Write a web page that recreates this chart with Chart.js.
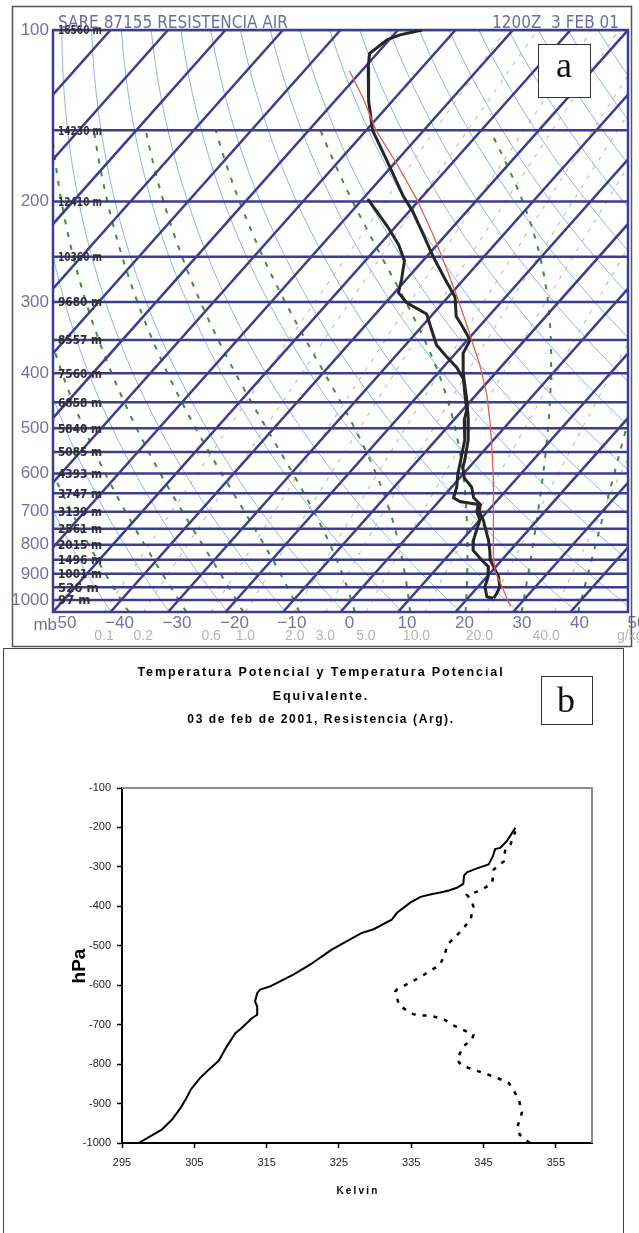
<!DOCTYPE html>
<html lang="es">
<head>
<meta charset="utf-8">
<title>Sondeo Resistencia 03 feb 2001</title>
<script src="https://cdn.jsdelivr.net/npm/chart.js@4.4.1/dist/chart.umd.min.js"></script>
<style>
html,body{margin:0;padding:0;background:#fff;}
body{position:relative;width:639px;height:1233px;overflow:hidden;}
canvas{position:absolute;left:0;}
#skewt{top:0;}
#theta{top:648px;}
</style>
</head>
<body>
<canvas id="skewt" width="639" height="648"></canvas>
<canvas id="theta" width="639" height="585"></canvas>
<script>
// ================= Panel a : Skew-T data =================
const tempPressure = [100,102,104,110,116,133,150,169,196,207,228,250,274,294,318,330,350,369,400,446,483,524,568,585,611,634,662,680,700,724,754,785,818,851,874,910,948,974,993];
const tempC        = [-75.8,-78.9,-80.4,-81.3,-79.5,-74.2,-68.9,-61.9,-53.3,-49.7,-44.1,-38.8,-33.2,-28.8,-25.6,-23.2,-19.5,-18.7,-15.6,-10.8,-7.5,-4.4,-1.9,-1.1,0.8,3.5,5.5,7.7,8.6,10.6,12.6,14.6,16.4,18.0,19.6,22.0,23.8,24.3,24.5];
const dewPressure  = [198,221,238,254,274,289,301,315,330,357,374,391,410,436,464,483,524,568,600,634,662,672,680,700,724,754,785,818,851,874,910,948,987,993];
const dewC         = [-59.1,-51.5,-46.7,-43.2,-40.8,-39.3,-36.3,-31.1,-28.7,-24.6,-21.1,-17.6,-14.6,-12.0,-9.3,-8.2,-5.0,-2.6,-1.0,0.9,2.0,3.7,7.3,8.2,10.0,11.0,12.0,13.5,16.5,18.7,20.2,21.2,23.1,24.4];
const parcelPressure = [118,132,150,172,198,228,262,292,330,357,386,436,486,526,613,717,837,891,962,1027];
const parcelC        = [-82.1,-75.4,-68.3,-59.4,-50.6,-42.4,-34.7,-28.8,-22.3,-18.2,-14.1,-8.2,-3.5,-0.2,6.0,12.0,17.9,20.6,25.0,28.7];

const isobarLevels = [100,150,200,250,300,350,400,450,500,550,600,650,700,750,800,850,900,950,1000];
const heightLabels = ['16560 m','14230 m','12410 m','10360 m','9680 m','8557 m','7560 m','6858 m','5840 m','5085 m','4393 m','3747 m','3139 m','2561 m','2015 m','1496 m','1001 m','526 m','97 m'];
const pressureTicks = [100,200,300,400,500,600,700,800,900,1000];
const tempTicks = [-50,-40,-30,-20,-10,0,10,20,30,40,50];
const mixingRatios = [0.1,0.2,0.6,1.0,2.0,3.0,5.0,10.0,20.0,40.0];
const mixingLabels = ['0.1','0.2','0.6','1.0','2.0','3.0','5.0','10.0','20.0','40.0'];
const isotherms = [-140,-130,-120,-110,-100,-90,-80,-70,-60,-50,-40,-30,-20,-10,0,10,20,30,40,50];
const dryAdiabatsK = [220,230,240,250,260,270,280,290,300,310,320,330,340,350,360,370,380,390,400,410,420,430,440,450,460,470,480];
const moistAdiabatsC = [-40,-30,-20,-10,0,10,20,30,40];

// ================= Panel b : potential temperature data =================
const thetaPressure = [-1000,-983,-966,-941,-911,-890,-865,-835,-814,-791,-755,-721,-711,-683,-675,-654,-641,-620,-611,-603,-573,-548,-510,-468,-458,-434,-417,-390,-376,-370,-365,-360,-353,-343,-322,-314,-305,-294,-273,-255,-252,-235,-201];
const thetaK        = [297.3,298.9,300.5,301.9,303.1,303.8,304.5,305.8,307.0,308.4,309.5,310.7,311.4,313.0,313.7,313.7,313.4,313.7,314.1,315.5,318.7,321.0,324.0,328.1,329.8,332.3,333.0,334.9,336.3,337.6,339.0,340.2,341.3,342.2,342.3,342.7,343.9,345.7,346.3,346.6,347.3,348.2,349.4];
const thetaePressure = [-1000,-979,-958,-924,-890,-865,-848,-835,-824,-814,-804,-789,-755,-738,-726,-713,-700,-686,-677,-677,-671,-650,-616,-611,-582,-548,-518,-497,-468,-434,-400,-385,-371,-360,-341,-307,-286,-256,-244,-210];
const thetaeK        = [351.4,350.0,349.7,350.3,349.9,349.1,348.5,346.9,345.2,343.6,342.0,341.3,342.2,343.4,343.6,342.2,340.6,339.5,337.6,336.0,334.9,333.3,332.8,333.0,336.0,339.0,339.7,340.0,341.6,343.2,343.6,343.3,342.7,344.6,346.2,346.4,347.8,348.0,348.7,349.4];
const kelvinTicks = [295,305,315,325,335,345,355];
const hpaTicks = [-1000,-900,-800,-700,-600,-500,-400,-300,-200,-100];

// ================= helpers =================
const SANS = "'Liberation Sans', Arial, Helvetica, sans-serif";
const NARROW = "'Liberation Sans Narrow', 'DejaVu Sans Condensed', 'Liberation Sans', Arial, sans-serif";
const SERIF = "'Liberation Serif', 'Times New Roman', serif";
const NAVY = '#3d3d8e';
const AXISGREY = '#7272a2';
const PBOT = 1050, PTOP = 100, SKEW_SPAN = 90;
const K = SKEW_SPAN / Math.log10(PBOT / PTOP);
const skewX = (T, p) => T + K * Math.log10(PBOT / p);
const profile = (P, T) => P.map((p, i) => ({x: skewX(T[i], p), y: p}));
const pairs = (X, Y) => X.map((v, i) => ({x: v, y: Y[i]}));

function tdOfMixing(wgkg, p) {
  const w = wgkg / 1000;
  const e = w * p / (0.622 + w);
  const l = Math.log(e / 6.112);
  return 243.5 * l / (17.67 - l);
}
function moistLapse(TK, p) {
  const es = 6.112 * Math.exp(17.67 * (TK - 273.15) / (TK - 29.65));
  const rs = 0.622 * es / Math.max(p - es, 1e-3);
  const num = 287.04 * TK + 2.501e6 * rs;
  const den = 1005.7 + 2.501e6 * 2.501e6 * rs * 0.622 / (287.04 * TK * TK);
  return num / den / p;
}
function moistPath(T0c, pStop) {
  const dp = 5;
  let T = T0c + 273.15, p = 1000;
  const up = [[p, T]];
  while (p > pStop) {
    const k1 = moistLapse(T, p), k2 = moistLapse(T - k1 * dp, p - dp);
    T -= dp * (k1 + k2) / 2; p -= dp; up.push([p, T]);
  }
  T = T0c + 273.15; p = 1000;
  const dn = [];
  while (p < PBOT) {
    const k1 = moistLapse(T, p), k2 = moistLapse(T + k1 * dp, p + dp);
    T += dp * (k1 + k2) / 2; p += dp; dn.push([p, T]);
  }
  return dn.reverse().concat(up).map(([pp, tt]) => [pp, tt - 273.15]);
}

// ================= Panel a plugins =================
const skewBackground = {
  id: 'skewBackground',
  beforeDatasetsDraw(chart) {
    const {ctx, chartArea: a, scales: {x, y}} = chart;
    const X = (T, p) => x.getPixelForValue(skewX(T, p));
    const Y = p => y.getPixelForValue(p);
    ctx.save();
    ctx.beginPath(); ctx.rect(a.left, a.top, a.right - a.left, a.bottom - a.top); ctx.clip();
    // dry adiabats
    ctx.strokeStyle = '#8ab6e4'; ctx.lineWidth = 1; ctx.setLineDash([]);
    for (const th of dryAdiabatsK) {
      ctx.beginPath();
      for (let p = PBOT; p >= PTOP; p -= 10) {
        const T = th * Math.pow(p / 1000, 0.2857) - 273.15;
        if (p === PBOT) ctx.moveTo(X(T, p), Y(p)); else ctx.lineTo(X(T, p), Y(p));
      }
      ctx.stroke();
    }
    // mixing ratio lines
    ctx.strokeStyle = '#cdbcbc'; ctx.lineWidth = 1.2; ctx.setLineDash([4, 7]);
    for (const w of mixingRatios) {
      ctx.beginPath();
      for (let p = PBOT; p >= PTOP; p -= 25) {
        const T = tdOfMixing(w, p);
        if (p === PBOT) ctx.moveTo(X(T, p), Y(p)); else ctx.lineTo(X(T, p), Y(p));
      }
      ctx.stroke();
    }
    // moist adiabats
    ctx.strokeStyle = '#3f8f3f'; ctx.lineWidth = 2; ctx.setLineDash([5, 8]);
    for (const t0 of moistAdiabatsC) {
      const path = moistPath(t0, 150);
      ctx.beginPath();
      path.forEach(([p, T], i) => { if (i === 0) ctx.moveTo(X(T, p), Y(p)); else ctx.lineTo(X(T, p), Y(p)); });
      ctx.stroke();
    }
    ctx.setLineDash([]);
    // isotherms
    ctx.strokeStyle = NAVY; ctx.lineWidth = 2.5;
    for (const T of isotherms) {
      ctx.beginPath(); ctx.moveTo(X(T, PBOT), Y(PBOT)); ctx.lineTo(X(T, PTOP), Y(PTOP)); ctx.stroke();
    }
    // isobars
    for (const p of isobarLevels) {
      ctx.beginPath(); ctx.moveTo(a.left, Y(p)); ctx.lineTo(a.right, Y(p)); ctx.stroke();
    }
    ctx.restore();
    // frame of plot area
    ctx.save();
    ctx.strokeStyle = NAVY; ctx.lineWidth = 2.5;
    ctx.strokeRect(a.left, a.top, a.right - a.left, a.bottom - a.top);
    // height labels
    ctx.fillStyle = '#2e2e2e'; ctx.font = 'bold 13px ' + NARROW; ctx.textBaseline = 'middle'; ctx.textAlign = 'left';
    isobarLevels.forEach((p, i) => ctx.fillText(heightLabels[i], a.left + 5, Y(p) + 1, 44));
    ctx.restore();
  },
  afterDraw(chart) {
    const {ctx, scales: {x}} = chart;
    ctx.save();
    // outer frame
    ctx.strokeStyle = '#555'; ctx.lineWidth = 1.5;
    ctx.strokeRect(12.5, 6.5, 619, 640);
    // header
    ctx.fillStyle = '#6e6e9e'; ctx.font = '17px ' + NARROW; ctx.textBaseline = 'alphabetic'; ctx.textAlign = 'left';
    ctx.fillText('SARE 87155 RESISTENCIA AIR', 58, 28, 240);
    ctx.fillText('1200Z  3 FEB 01', 492, 28, 134);
    // mb unit (drawn over the minus sign of the first tick label, as in the original)
    ctx.fillStyle = '#fff'; ctx.fillRect(44, 616, 14, 16);
    ctx.fillStyle = AXISGREY; ctx.font = '17px ' + SANS; ctx.textAlign = 'right';
    ctx.fillText('mb', 57, 630);
    // mixing ratio labels
    ctx.fillStyle = '#b4b4b4'; ctx.font = '14px ' + SANS; ctx.textAlign = 'center';
    mixingRatios.forEach((w, i) => {
      const px = x.getPixelForValue(skewX(tdOfMixing(w, PBOT), PBOT));
      ctx.fillText(mixingLabels[i], px - (w >= 10 ? 8 : 0), 640);
    });
    ctx.textAlign = 'left';
    ctx.fillText('g/kg', 617, 640);
    // panel letter
    ctx.fillStyle = '#fff'; ctx.fillRect(538, 44, 52, 53);
    ctx.strokeStyle = '#333'; ctx.lineWidth = 1; ctx.strokeRect(538.5, 44.5, 52, 53);
    ctx.fillStyle = '#111'; ctx.font = '36px ' + SERIF; ctx.textAlign = 'center';
    ctx.fillText('a', 564, 77);
    ctx.restore();
  }
};

new Chart(document.getElementById('skewt'), {
  type: 'scatter',
  data: {
    datasets: [
      {label: 'Parcela', data: profile(parcelPressure, parcelC), showLine: true, borderColor: '#e0604e', borderWidth: 1.3, pointRadius: 0, tension: 0},
      {label: 'Punto de rocío', data: profile(dewPressure, dewC), showLine: true, borderColor: '#262626', borderWidth: 3, pointRadius: 0, tension: 0},
      {label: 'Temperatura', data: profile(tempPressure, tempC), showLine: true, borderColor: '#262626', borderWidth: 3, pointRadius: 0, tension: 0}
    ]
  },
  options: {
    responsive: false, animation: false,
    layout: {padding: {left: 0, top: 30, right: 11, bottom: 16}},
    plugins: {legend: {display: false}, tooltip: {enabled: false}},
    scales: {
      x: {
        type: 'linear', min: -50, max: 50,
        afterBuildTicks: s => { s.ticks = tempTicks.map(v => ({value: v})); },
        afterFit: s => { s.height = 20; },
        ticks: {autoSkip: false, maxRotation: 0, labelOffset: 9, padding: 1, color: AXISGREY, font: {size: 17, family: SANS},
          callback: v => (v < 0 ? '\u2212' + Math.abs(v) : String(v))},
        grid: {display: false, drawTicks: false}, border: {display: false}
      },
      y: {
        type: 'logarithmic', reverse: true, min: PTOP, max: PBOT,
        afterBuildTicks: s => { s.ticks = pressureTicks.map(v => ({value: v})); },
        afterFit: s => { s.width = 53; },
        ticks: {autoSkip: false, padding: 4, color: AXISGREY, font: {size: 17, family: SANS}, callback: v => String(v)},
        grid: {display: false, drawTicks: false}, border: {display: false}
      }
    }
  },
  plugins: [skewBackground]
});

// ================= Panel b =================
const thetaDecor = {
  id: 'thetaDecor',
  afterDraw(chart) {
    const {ctx, chartArea: a} = chart;
    ctx.save();
    // outer frame
    ctx.strokeStyle = '#444'; ctx.lineWidth = 1;
    ctx.strokeRect(3.5, 0.5, 620, 600);
    // grey top and right border of plot area
    ctx.strokeStyle = '#8e8e8e'; ctx.lineWidth = 2;
    ctx.beginPath(); ctx.moveTo(a.left, a.top); ctx.lineTo(a.right, a.top); ctx.lineTo(a.right, a.bottom); ctx.stroke();
    // titles
    ctx.fillStyle = '#000'; ctx.textAlign = 'center'; ctx.textBaseline = 'alphabetic';
    ctx.font = 'bold 12.5px ' + SANS;
    ctx.letterSpacing = '1.9px';
    ctx.fillText('Temperatura Potencial y Temperatura Potencial', 321, 28);
    ctx.fillText('Equivalente.', 321, 52);
    ctx.letterSpacing = '1.6px';
    ctx.font = 'bold 12px ' + SANS;
    ctx.fillText('03 de feb de 2001, Resistencia (Arg).', 321, 75);
    // x title
    ctx.font = 'bold 10px ' + SANS; ctx.letterSpacing = '2.2px';
    ctx.fillText('Kelvin', 358, 546);
    ctx.letterSpacing = '0px';
    // y title
    ctx.save();
    ctx.translate(85, 318); ctx.rotate(-Math.PI / 2);
    ctx.font = 'bold 19px ' + SANS; ctx.textBaseline = 'alphabetic';
    ctx.fillText('hPa', 0, 0);
    ctx.restore();
    // panel letter
    ctx.fillStyle = '#fff'; ctx.fillRect(541, 28, 51, 48);
    ctx.strokeStyle = '#333'; ctx.lineWidth = 1; ctx.strokeRect(541.5, 28.5, 51, 48);
    ctx.fillStyle = '#111'; ctx.font = '36px ' + SERIF; ctx.textAlign = 'center';
    ctx.fillText('b', 566, 64);
    ctx.restore();
  }
};

new Chart(document.getElementById('theta'), {
  type: 'scatter',
  data: {
    datasets: [
      {label: 'Temperatura potencial', data: pairs(thetaK, thetaPressure), showLine: true, borderColor: '#000', borderWidth: 2, pointRadius: 0, tension: 0},
      {label: 'Temperatura potencial equivalente', data: pairs(thetaeK, thetaePressure), showLine: true, borderColor: '#000', borderWidth: 2.5, borderDash: [4, 7], pointRadius: 0, tension: 0}
    ]
  },
  options: {
    responsive: false, animation: false,
    layout: {padding: {left: 0, top: 140, right: 47, bottom: 50}},
    plugins: {legend: {display: false}, tooltip: {enabled: false}},
    scales: {
      x: {
        type: 'linear', min: 295, max: 360,
        afterBuildTicks: s => { s.ticks = kelvinTicks.map(v => ({value: v})); },
        afterFit: s => { s.height = 40; },
        ticks: {autoSkip: false, maxRotation: 0, padding: 8, color: '#222', font: {size: 11, family: SANS}, callback: v => String(v)},
        grid: {display: true, drawOnChartArea: false, drawTicks: true, tickLength: 5, tickColor: '#000', tickWidth: 1.5},
        border: {display: true, color: '#000', width: 2}
      },
      y: {
        type: 'linear', min: -1000, max: -100,
        afterBuildTicks: s => { s.ticks = hpaTicks.map(v => ({value: v})); },
        afterFit: s => { s.width = 122; },
        ticks: {autoSkip: false, padding: 6, color: '#222', font: {size: 11, family: SANS}, callback: v => String(v)},
        grid: {display: true, drawOnChartArea: false, drawTicks: true, tickLength: 5, tickColor: '#000', tickWidth: 1.5},
        border: {display: true, color: '#000', width: 2}
      }
    }
  },
  plugins: [thetaDecor]
});
</script>
</body>
</html>
